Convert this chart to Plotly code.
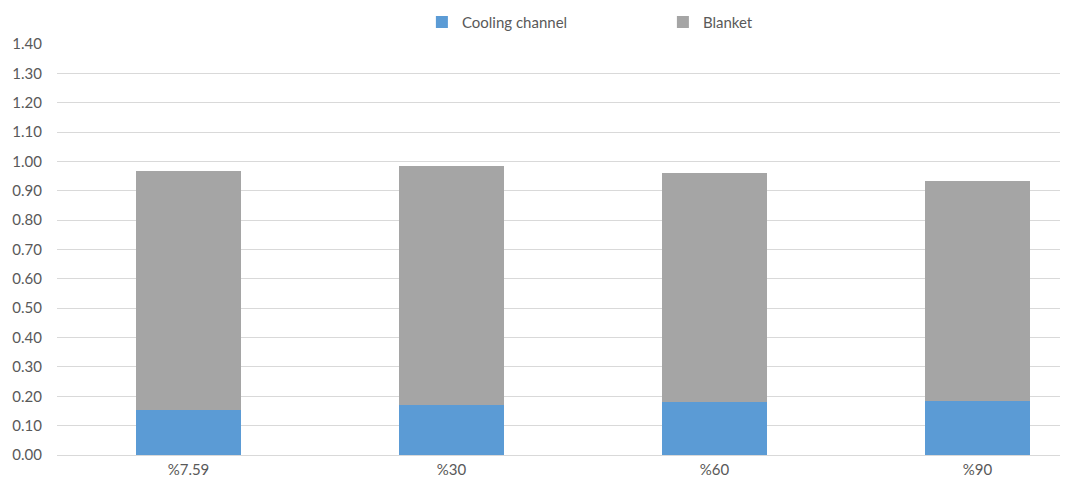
import plotly.graph_objects as go

categories = ["%7.59", "%30", "%60", "%90"]
cooling_channel = [0.152, 0.171, 0.180, 0.183]
blanket = [0.816, 0.812, 0.780, 0.750]
y_ticks = [0.0, 0.1, 0.2, 0.3, 0.4, 0.5, 0.6, 0.7, 0.8, 0.9, 1.0, 1.1, 1.2, 1.3, 1.4]

fig = go.Figure()
fig.add_trace(go.Bar(x=categories, y=cooling_channel, name="Cooling channel",
                     marker=dict(color="#5b9bd5", line=dict(width=0)), width=0.4))
fig.add_trace(go.Bar(x=categories, y=blanket, name="Blanket",
                     marker=dict(color="#a5a5a5", line=dict(width=0)), width=0.4))

fig.update_layout(
    barmode="stack",
    width=1060, height=477,
    margin=dict(l=49, r=3, t=36, b=30, autoexpand=False),
    paper_bgcolor="white", plot_bgcolor="white",
    font=dict(family="Lato, Carlito, sans-serif", size=15, color="#595959"),
    showlegend=True,
    legend=dict(orientation="h", x=0.362, xanchor="left", y=1.013, yanchor="bottom",
                traceorder="normal", entrywidth=196, entrywidthmode="pixels",
                font=dict(size=15, color="#595959"), itemclick=False),
    xaxis=dict(range=[-0.5, 3.333], showgrid=False, showline=False, ticks="",
               automargin=False, ticklabelstandoff=4,
               tickfont=dict(size=15, color="#595959")),
    yaxis=dict(range=[0, 1.4], tickvals=y_ticks, tickformat=".2f",
               showgrid=True, gridcolor="#d9d9d9", gridwidth=1,
               zeroline=True, zerolinecolor="#d9d9d9", zerolinewidth=1,
               showline=False, ticks="", ticklabelstandoff=14, automargin=False,
               tickfont=dict(size=15, color="#595959")),
)

fig.write_html("out.html")
